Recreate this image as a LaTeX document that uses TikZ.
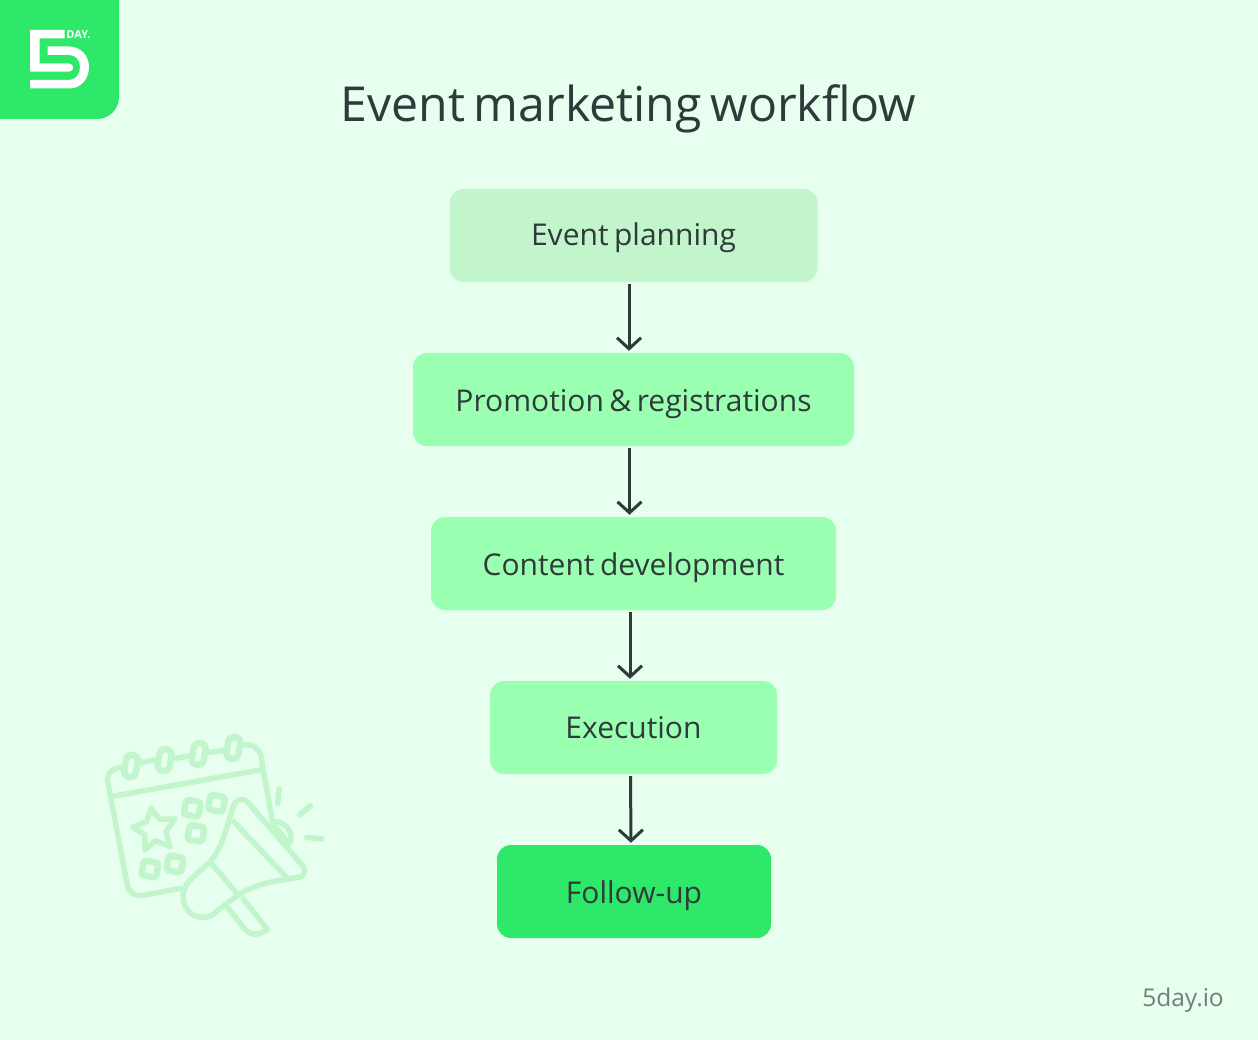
\documentclass[tikz,border=0pt]{standalone}
\usepackage{fontspec}
\setmainfont[WordSpace=0.7]{Open Sans}
\usetikzlibrary{arrows.meta,calc}
\definecolor{bgc}{HTML}{E6FFEE}
\definecolor{pale}{HTML}{C2F5CB}
\definecolor{mid}{HTML}{9BFFB2}
\definecolor{vivid}{HTML}{2EE869}
\definecolor{ink}{HTML}{2F3A3A}
\definecolor{grayt}{HTML}{6F8078}
\tikzset{
 x=1pt,y=-1pt,
 flow/.style={rounded corners=14pt,minimum height=93pt,inner sep=0pt,text=ink,font=\fontsize{30}{36}\selectfont,anchor=center,text height=27pt,text depth=6pt},
 link/.style={draw=ink,line width=3pt,-{Straight Barb[length=11pt,width=24pt,line width=3pt]},shorten <=2pt,shorten >=2pt},
 ico/.style={draw=pale,line width=5.5pt,line cap=round,line join=round},
 tile/.style={ico,line width=6.5pt,rounded corners=3pt,rotate=-10,minimum width=15pt,minimum height=15pt,inner sep=0pt},
 ringb/.style={ico,line width=6.5pt,rounded corners=5pt,rotate=-10,minimum width=12pt,minimum height=22pt,inner sep=0pt},
}
\begin{document}
\begin{tikzpicture}
\useasboundingbox (0,0) rectangle (1258,1040);
\fill[bgc] (0,0) rectangle (1258,1040);
% logo
\fill[vivid] (0,0) -- (119,0) -- (119,97) arc[start angle=0,end angle=90,radius=22pt,y radius=-22pt] -- (0,119) -- cycle;
\fill[white] (30,30) -- (64.5,30) -- (64.5,38.5) -- (39.5,38.5) -- (39.5,63.5) -- (69,63.5) .. controls (74.5,63.5) and (74.5,71.7) .. (69,71.7) -- (30,71.7) -- cycle;
\fill[white] (47.5,46.5) -- (69,46.5) .. controls (81,46.5) and (89,56) .. (89,67) .. controls (89,79) and (81,88.5) .. (69,88.5) -- (30,88.5) -- (30,80) -- (69,80) .. controls (76,80) and (80,74) .. (80,67) .. controls (80,60) and (76,55) .. (69,55) -- (47.5,55) -- cycle;
\node[text=white,font=\fontsize{11}{12}\selectfont\bfseries,inner sep=0pt] (brand) at (78.5,34.5) {DAY.};
% title
\node[text=ink,font=\fontsize{48.2}{56}\selectfont,inner sep=0pt] (title) at (628.5,109) {Event marketing workflow};
% boxes
\node[flow,fill=pale,minimum width=368pt] (a) at (633.5,235.5) {Event planning};
\node[flow,fill=mid,minimum width=441pt,text height=30pt] (b) at (633.5,399.5) {Promotion \& registrations};
\node[flow,fill=mid,minimum width=405pt,text height=29pt] (c) at (633.5,563.5) {Content development};
\node[flow,fill=mid,minimum width=287pt] (d) at (633.5,727.5) {Execution};
\node[flow,fill=vivid,minimum width=274pt,text height=29pt] (e) at (634,891.5) {Follow-up};
\draw[link] ([xshift=-4.5pt]a.south) -- ([xshift=-4.5pt]b.north);
\draw[link] ([xshift=-4pt]b.south) -- ([xshift=-4pt]c.north);
\draw[link] ([xshift=-3.5pt]c.south) -- ([xshift=-3.5pt]d.north);
\draw[link] ([xshift=-3pt]d.south) -- ([xshift=-3pt]e.north);
\node[text=grayt,font=\fontsize{24.5}{30}\selectfont,inner sep=0pt] (site) at (1183,1000) {5day.io};
% icon
\begin{scope}[shift={(90,720)},x=0.3333pt,y=-0.3333pt]
\draw[ico] (100,140) .. controls (70,145) and (50,155) .. (53,185) -- (112,495) .. controls (118,520) and (135,530) .. (160,526) -- (272,505);
\draw[ico] (73,228) -- (510,150);
\draw[ico] (155,127) -- (195,120) (255,115) -- (295,108) (357,98) -- (400,90);
\draw[ico] (460,75) .. controls (490,72) and (508,85) .. (513,110) -- (546,298);
\node[ringb] at (123,138) {}; \node[ringb] at (224,120) {}; \node[ringb] at (326,102) {}; \node[ringb] at (430,84) {};
\draw[ico] (183,265) -- (208,298) -- (255,297) -- (228,335) -- (240,380) -- (195,362) -- (165,390) -- (165,345) -- (128,322) -- (170,305) -- cycle;
\node[tile] at (307,265) {}; \node[tile] at (380,250) {}; \node[tile] at (318,340) {}; \node[tile] at (180,447) {}; \node[tile] at (255,432) {};
% megaphone
\fill[bgc] (430,260) .. controls (410,320) and (395,390) .. (360,425) -- (300,480) .. controls (260,520) and (280,595) .. (345,592) .. controls (365,590) and (375,580) .. (385,570) -- (445,525) .. controls (490,495) and (540,485) .. (625,472) .. controls (645,470) and (650,450) .. (638,437) -- (472,245) .. controls (455,230) and (435,240) .. (430,260) -- cycle;
\draw[ico] (430,260) .. controls (410,320) and (395,390) .. (360,425) -- (300,480) .. controls (260,520) and (280,595) .. (345,592) .. controls (365,590) and (375,580) .. (385,570) -- (445,525) .. controls (490,495) and (540,485) .. (625,472) .. controls (645,470) and (650,450) .. (638,437) -- (472,245) .. controls (455,230) and (435,240) .. (430,260) -- cycle;
\draw[ico] (432,305) -- (595,478);
\draw[ico] (360,425) -- (445,525);
\draw[ico] (415,565) -- (465,628) .. controls (485,650) and (510,645) .. (532,628) -- (460,537);
\draw[ico] (548,305) .. controls (590,300) and (620,350) .. (593,375);
\draw[ico] (548,312) -- (590,362);
\draw[ico] (568,207) -- (563,250);
\draw[ico] (662,257) -- (628,285);
\draw[ico] (650,352) -- (695,357);
\end{scope}
\end{tikzpicture}
\end{document}
